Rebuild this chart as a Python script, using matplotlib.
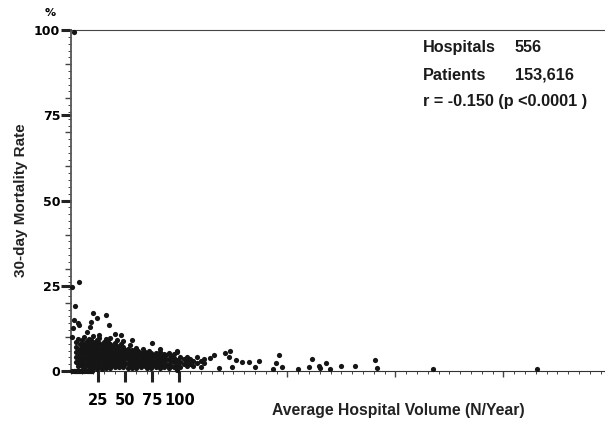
import matplotlib
matplotlib.use('Agg')
import matplotlib.pyplot as plt
from matplotlib.ticker import MultipleLocator, FixedLocator

# volume (N/year) vs 30-day mortality (%)
# dense cluster, one column of points per volume value
blob_x = [4, 6, 8, 10, 12, 14, 16, 18, 20, 22, 24, 26, 28, 30, 32, 34, 36, 38, 40,
          42, 44, 46, 48, 50, 52, 54, 56, 58, 60, 62, 64, 66, 68, 70, 72, 74, 76,
          78, 80, 82, 84, 86, 88, 90, 92, 95, 98, 101, 104, 107, 110, 113, 116,
          120, 123]
blob_y = [
    [2.5, 4.0, 5.5, 7.0, 8.5],
    [1.5, 3.0, 4.5, 6.0, 9.5],
    [2.0, 3.5, 5.0, 6.5, 8.0],
    [1.5, 2.8, 4.2, 5.6, 7.2, 9.0],
    [1.0, 2.4, 3.8, 5.2, 6.6, 8.0, 10.0],
    [1.8, 3.2, 4.6, 6.0, 7.4, 8.8],
    [1.2, 2.6, 4.0, 5.4, 6.8, 8.2, 9.5],
    [1.8, 3.2, 4.6, 6.0, 7.4, 9.0],
    [0.8, 2.2, 3.6, 5.0, 6.4, 7.8, 10.2],
    [1.5, 2.9, 4.3, 5.7, 7.1, 8.5],
    [0.5, 1.9, 3.3, 4.7, 6.1, 7.5, 9.0],
    [1.2, 2.6, 4.0, 5.4, 6.8, 8.2, 9.8],
    [0.6, 2.0, 3.4, 4.8, 6.2, 7.6],
    [1.4, 2.8, 4.2, 5.6, 7.0, 8.6],
    [0.8, 2.2, 3.6, 5.0, 6.4, 7.8, 9.3],
    [1.5, 2.9, 4.3, 5.7, 7.1, 8.4],
    [1.0, 2.4, 3.8, 5.2, 6.6, 8.0, 9.6],
    [1.7, 3.1, 4.5, 5.9, 7.3],
    [1.1, 2.5, 3.9, 5.3, 6.7, 8.3],
    [1.8, 3.2, 4.6, 6.0, 7.4, 9.0],
    [1.2, 2.6, 4.0, 5.4, 6.8],
    [1.9, 3.3, 4.7, 6.1, 7.8],
    [1.3, 2.7, 4.1, 5.5, 6.9, 8.8],
    [2.0, 3.4, 4.8, 6.2],
    [1.0, 2.4, 3.8, 5.2, 6.6],
    [1.7, 3.1, 4.5, 5.9, 7.5],
    [0.9, 2.3, 3.7, 5.1, 6.3],
    [1.6, 3.0, 4.4, 5.8],
    [1.0, 2.4, 3.8, 5.2, 6.8],
    [1.8, 3.2, 4.6, 6.0],
    [1.2, 2.6, 4.0, 5.4],
    [2.0, 3.4, 4.8, 6.5],
    [1.4, 2.8, 4.2, 5.6],
    [0.8, 2.2, 3.6, 5.0],
    [1.6, 3.0, 4.4, 6.0],
    [1.0, 2.4, 3.8, 5.2],
    [1.8, 3.2, 4.6],
    [1.2, 2.6, 4.0, 5.4],
    [2.0, 3.4, 4.8],
    [1.0, 2.4, 3.8, 5.5],
    [1.6, 3.0, 4.4],
    [1.2, 2.6, 4.0, 5.0],
    [1.8, 3.2, 4.6],
    [0.8, 2.2, 3.6, 5.2],
    [1.5, 2.9, 4.3],
    [1.1, 2.5, 3.9, 5.0],
    [0.3, 1.8, 3.2, 5.6],
    [1.2, 2.6, 4.0],
    [2.0, 3.4],
    [1.5, 2.8, 4.2],
    [2.2, 3.6],
    [1.6, 3.0],
    [2.4, 4.0],
    [1.2, 2.8],
    [2.4, 3.4],
]

# hospitals with no deaths
zero_x = [1, 2, 3, 4, 5, 6, 7, 8, 9, 10, 11, 12, 13, 14, 15, 16, 17, 18, 19]

# scattered points outside the cluster
other_x = [2, 1, 7, 3, 2, 1.5, 6, 7.5, 1, 20, 24, 32, 35, 14, 17, 18, 26, 40, 46,
           56, 75, 82, 98, 128, 132, 137, 142, 146, 147, 149, 152, 158, 164, 170,
           174, 187, 189, 192, 195, 210, 220, 223, 229, 230, 236, 239, 250, 263,
           281, 283, 335, 431]
other_y = [99.5, 24.6, 26, 19, 15, 12.5, 14, 13.5, 10, 17, 15.5, 16.5, 13.5, 11.5,
           13, 14.5, 10.5, 11, 10.5, 9, 8.2, 6.5, 5.8, 3.8, 4.7, 0.9, 5.3, 4, 6,
           1.2, 3.2, 2.7, 2.7, 1.2, 3, 0.6, 2.4, 4.7, 1.2, 0.6, 1.2, 3.5, 1.5, 0.9,
           2.4, 0.6, 1.5, 1.5, 3.2, 0.9, 0.6, 0.6]

vol = [x for x, ys in zip(blob_x, blob_y) for _ in ys] + zero_x + other_x
mort = [y for ys in blob_y for y in ys] + [0] * len(zero_x) + other_y

fig = plt.figure(figsize=(6.05, 4.24), dpi=100)
ax = fig.add_axes([0.118, 0.125, 0.882, 0.804])

ax.scatter(vol, mort, s=14, c='#151515', linewidths=0, clip_on=False, zorder=3)

ax.set_xlim(0, 494)
ax.set_ylim(0, 100)

ax.spines['right'].set_visible(False)
ax.spines['left'].set_color('#555555')
ax.spines['left'].set_linewidth(1.3)
ax.spines['bottom'].set_color('#333333')
ax.spines['top'].set_color('#444444')

ax.xaxis.set_major_locator(FixedLocator([25, 50, 75, 100]))
ax.xaxis.set_minor_locator(MultipleLocator(10))
ax.yaxis.set_major_locator(FixedLocator([0, 25, 50, 75, 100]))
ax.yaxis.set_minor_locator(MultipleLocator(2))

ax.tick_params(axis='x', which='major', length=8, width=2.2, color='#222222',
               labelsize=10.5, pad=8)
ax.tick_params(axis='y', which='major', length=7, width=2.2, color='#222222',
               labelsize=9, pad=1)
ax.tick_params(which='minor', length=2.5, width=0.7, color='#444444')
for lab in ax.get_xticklabels() + ax.get_yticklabels():
    lab.set_fontweight('bold')
    lab.set_family('DejaVu Sans')

# medium ticks
sx = ax.secondary_xaxis('bottom')
sx.set_xticks([200, 300, 400])
sx.set_xticklabels([])
sx.tick_params(length=4, width=1, color='#444444')
sx.spines['bottom'].set_visible(False)
sy = ax.secondary_yaxis('left')
sy.set_yticks([10, 20, 30, 40, 60, 70, 80, 90])
sy.set_yticklabels([])
sy.tick_params(length=4, width=1, color='#444444')
sy.spines['left'].set_visible(False)

lab_font = dict(family='Liberation Sans', fontweight='bold', color='#222222')
ax.set_xlabel('Average Hospital Volume (N/Year)', fontsize=11.3, **lab_font)
ax.xaxis.set_label_coords(0.613, -0.095)
ax.set_ylabel('30-day Mortality Rate', fontsize=11, **lab_font)
ax.yaxis.set_label_coords(-0.082, 0.5)

fig.text(0.083, 0.97, '%', ha='center', va='center', fontsize=8,
         fontweight='bold', family='DejaVu Sans')

txt = dict(fontsize=11.7, fontweight='bold', family='Liberation Sans',
           color='#1a1a1a', va='center', ha='left', transform=fig.transFigure)
fig.text(0.699, 0.887, 'Hospitals', **txt)
fig.text(0.851, 0.887, '556', **txt)
fig.text(0.699, 0.823, 'Patients', **txt)
fig.text(0.851, 0.823, '153,616', **txt)
fig.text(0.699, 0.761, 'r = -0.150 (p <0.0001 )', **txt)

fig.savefig('out.png', dpi=100)
